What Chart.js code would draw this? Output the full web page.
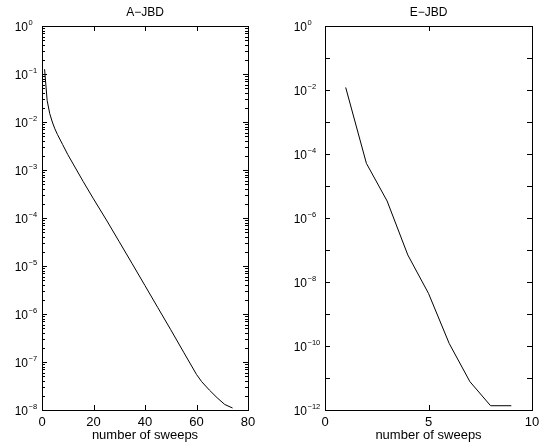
<!DOCTYPE html>
<html>
<head>
<meta charset="utf-8">
<script src="https://cdn.jsdelivr.net/npm/chart.js@4/dist/chart.umd.min.js"></script>
<style>
  body { margin: 0; background: #fff; }
  #wrap { position: relative; width: 545px; height: 448px; }
  canvas { position: absolute; top: 0; }
  #chartA { left: 0; }
  #chartE { left: 272px; }
</style>
</head>
<body>
<div id="wrap">
  <canvas id="chartA" width="272" height="448"></canvas>
  <canvas id="chartE" width="273" height="448"></canvas>
</div>
<script>
// A-JBD: off-diagonal measure vs sweeps
const sweepsA = [1, 2, 3, 4, 5, 6, 8, 10, 13, 16, 20, 25, 30, 35, 40, 45, 50, 55, 60, 62, 65, 68, 71, 74];
const offA = [1.26e-1, 2.8e-2, 1.5e-2, 1.0e-2, 7.2e-3, 5.5e-3, 3.4e-3, 2.1e-3, 1.1e-3, 5.75e-4, 2.5e-4, 9.1e-5,
  3.2e-5, 1.12e-5, 3.9e-6, 1.35e-6, 4.7e-7, 1.6e-7, 5.5e-8, 3.9e-8, 2.6e-8, 1.8e-8, 1.3e-8, 1.1e-8];

// E-JBD
const sweepsE = [1, 2, 3, 4, 5, 6, 7, 8, 9];
const offE = [1.2e-2, 5.1e-5, 3.4e-6, 7.0e-8, 4.4e-9, 1.2e-10, 7.7e-12, 1.36e-12, 1.36e-12];

const xTicksA = [0, 20, 40, 60, 80];
const xTicksE = [0, 5, 10];
const decadesA = [0, -1, -2, -3, -4, -5, -6, -7, -8];
const decadesE = [0, -1, -2, -3, -4, -5, -6, -7, -8, -9, -10, -11, -12];
const labelsA = [0, -1, -2, -3, -4, -5, -6, -7, -8];
const labelsE = [0, -2, -4, -6, -8, -10, -12];

const FONT = "'Liberation Sans', Arial, Helvetica, sans-serif";

// box, inward ticks, 10^n labels and title, like a matlab axes
const framePlugin = {
  id: "frame",
  afterDraw(chart, args, opts) {
    const ctx = chart.ctx;
    const a = chart.chartArea;
    const xs = chart.scales.x, ys = chart.scales.y;
    ctx.save();
    ctx.strokeStyle = "#000";
    ctx.lineWidth = 1;
    ctx.strokeRect(Math.round(a.left) + 0.5, Math.round(a.top) + 0.5,
      Math.round(a.right - a.left), Math.round(a.bottom - a.top));
    ctx.beginPath();
    opts.xticks.forEach(v => {
      const px = Math.round(xs.getPixelForValue(v)) + 0.5;
      ctx.moveTo(px, a.bottom); ctx.lineTo(px, a.bottom - 5);
      ctx.moveTo(px, a.top); ctx.lineTo(px, a.top + 5);
    });
    opts.decades.forEach(e => {
      const py = Math.round(ys.getPixelForValue(Math.pow(10, e))) + 0.5;
      ctx.moveTo(a.left, py); ctx.lineTo(a.left + 5, py);
      ctx.moveTo(a.right, py); ctx.lineTo(a.right - 5, py);
      if (opts.minor && e > opts.decades[opts.decades.length - 1]) {
        for (let m = 2; m <= 9; m++) {
          const pm = Math.round(ys.getPixelForValue(m * Math.pow(10, e - 1))) + 0.5;
          ctx.moveTo(a.left, pm); ctx.lineTo(a.left + 3, pm);
          ctx.moveTo(a.right, pm); ctx.lineTo(a.right - 3, pm);
        }
      }
    });
    ctx.stroke();

    // "10" sits at a fixed spot, the exponent follows it
    ctx.fillStyle = "#000";
    ctx.textBaseline = "alphabetic";
    opts.labels.forEach(e => {
      const py = ys.getPixelForValue(Math.pow(10, e));
      const exp = e === 0 ? "0" : "\u2212" + Math.abs(e);
      const base = a.left - opts.gap;
      ctx.font = "12px " + FONT;
      ctx.textAlign = "right";
      ctx.fillText("10", base, py + 5);
      ctx.font = "7.5px " + FONT;
      ctx.textAlign = "left";
      ctx.fillText(exp, base + 0.5, py - 1.5);
    });

    ctx.font = "12px " + FONT;
    ctx.textAlign = "center";
    ctx.textBaseline = "middle";
    ctx.fillText(opts.title, (a.left + a.right) / 2, 13);
    ctx.restore();
  }
};

function makeChart(id, xs, ys, xmax, step, ymin, yWidth, padRight, frame) {
  return new Chart(document.getElementById(id), {
    type: "line",
    data: {
      datasets: [{
        data: xs.map((x, i) => ({ x: x, y: ys[i] })),
        borderColor: "#000",
        borderWidth: 1,
        pointRadius: 0,
        fill: false,
        tension: 0
      }]
    },
    options: {
      responsive: false,
      animation: false,
      devicePixelRatio: 1,
      layout: { padding: { top: 26, right: padRight, left: 0, bottom: 0 } },
      plugins: {
        legend: { display: false },
        tooltip: { enabled: false },
        frame: frame
      },
      scales: {
        x: {
          type: "linear",
          min: 0,
          max: xmax,
          grid: { display: false, drawTicks: false },
          border: { display: false },
          ticks: { stepSize: step, color: "#000", padding: 5, font: { size: 13, family: FONT } },
          title: { display: true, text: "number of sweeps", color: "#000", padding: { top: 0, bottom: 5 }, font: { size: 13, family: FONT } },
          afterFit: s => { s.height = 38; }
        },
        y: {
          type: "logarithmic",
          min: ymin,
          max: 1,
          grid: { display: false, drawTicks: false },
          border: { display: false },
          ticks: { display: false },
          afterFit: s => { s.width = yWidth; }
        }
      }
    },
    plugins: [framePlugin]
  });
}

makeChart("chartA", sweepsA, offA, 80, 20, 1e-8, 42, 24,
  { title: "A\u2212JBD", xticks: xTicksA, decades: decadesA, labels: labelsA, minor: true, gap: 14 });
makeChart("chartE", sweepsE, offE, 10, 5, 1e-12, 53, 13,
  { title: "E\u2212JBD", xticks: xTicksE, decades: decadesE, labels: labelsE, minor: false, gap: 18 });
</script>
</body>
</html>
